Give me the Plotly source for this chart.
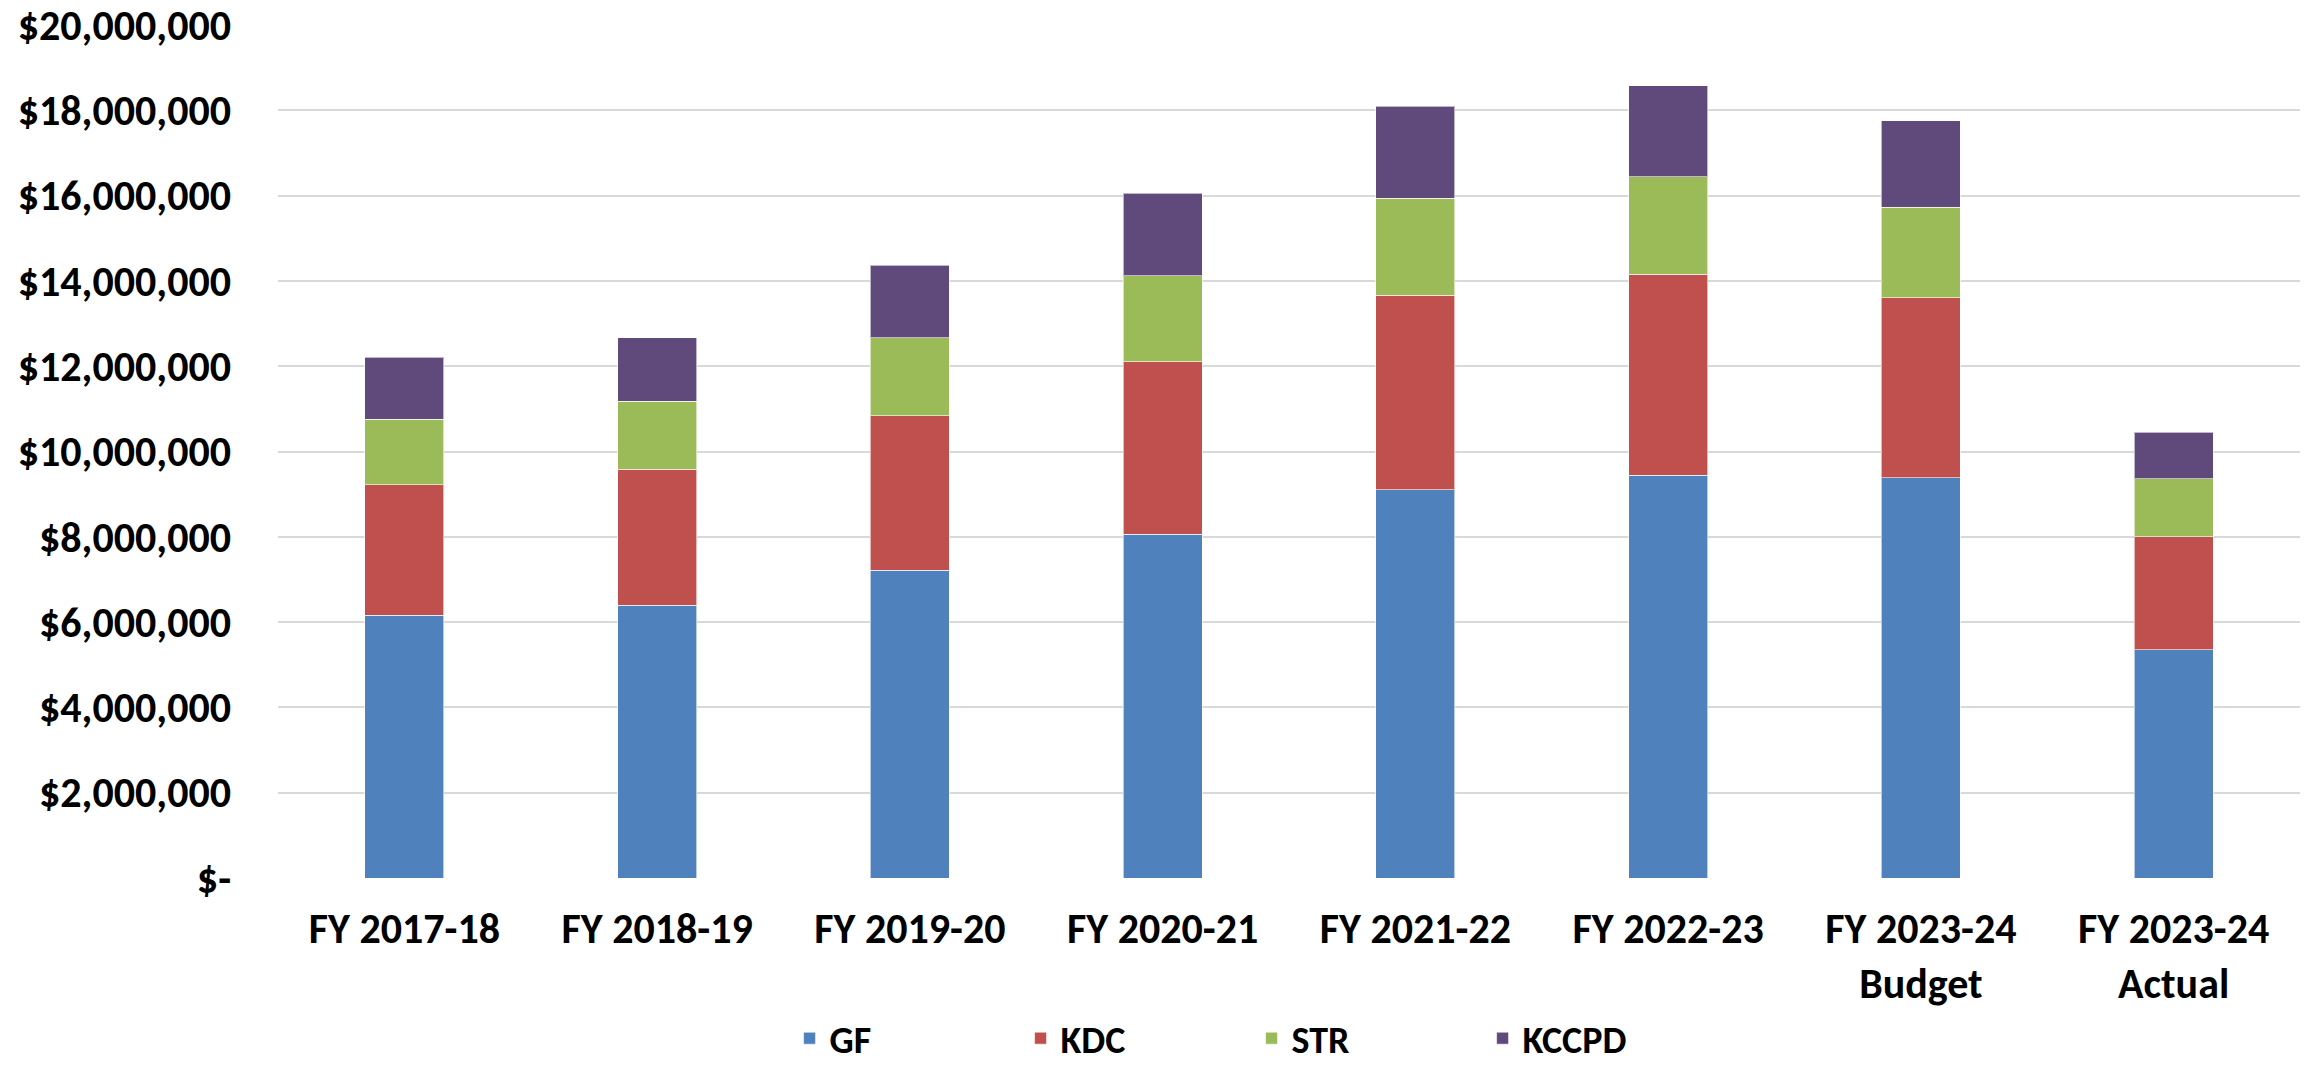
import plotly.graph_objects as go

categories = ["FY 2017-18", "FY 2018-19", "FY 2019-20", "FY 2020-21", "FY 2021-22",
              "FY 2022-23", "FY 2023-24<br>Budget", "FY 2023-24<br>Actual"]

gf = [6160000, 6390000, 7220000, 8060000, 9100000, 9440000, 9380000, 5350000]
kdc = [3060000, 3190000, 3620000, 4050000, 4560000, 4720000, 4220000, 2650000]
strv = [1540000, 1600000, 1830000, 2010000, 2280000, 2280000, 2130000, 1360000]
kccpd = [1450000, 1490000, 1700000, 1930000, 2160000, 2130000, 2030000, 1090000]

series_names = ["GF", "KDC", "STR", "KCCPD"]
series_values = [gf, kdc, strv, kccpd]
colors = ["#4F81BD", "#C0504D", "#9BBB59", "#604A7B"]

tick_vals = [0, 2000000, 4000000, 6000000, 8000000, 10000000, 12000000,
             14000000, 16000000, 18000000, 20000000]
tick_text = ["$-", "$2,000,000", "$4,000,000", "$6,000,000", "$8,000,000",
             "$10,000,000", "$12,000,000", "$14,000,000", "$16,000,000",
             "$18,000,000", "$20,000,000"]

FONT = "Carlito, Calibri, 'Open Sans', sans-serif"

fig = go.Figure()
for name, vals, col in zip(series_names, series_values, colors):
    fig.add_trace(go.Bar(
        x=categories, y=vals, name=name,
        marker=dict(color=col, line=dict(color="rgba(255,255,255,0.6)", width=1)),
    ))

fig.update_layout(
    barmode="stack",
    bargap=0.688,
    width=2308, height=1070,
    autosize=False,
    margin=dict(l=278, r=8, t=25, b=192, autoexpand=False),
    paper_bgcolor="white",
    plot_bgcolor="white",
    font=dict(family=FONT, size=42, color="black", weight="bold"),
    legend=dict(
        orientation="h",
        x=0.253, xanchor="left",
        yref="container",
        y=0.0, yanchor="bottom",
        entrywidth=186, entrywidthmode="pixels",
        font=dict(family=FONT, size=38, color="black", weight="bold"),
        traceorder="normal",
    ),
    xaxis=dict(
        showgrid=False, showline=False, zeroline=False,
        ticks="", ticklabelstandoff=22, automargin=False,
        tickfont=dict(family=FONT, size=42, color="black", weight="bold"),
    ),
    yaxis=dict(
        range=[0, 20000000],
        tickvals=tick_vals, ticktext=tick_text,
        showgrid=True, gridcolor="#D9D9D9", gridwidth=2,
        zeroline=False, showline=False, automargin=False,
        ticks="", ticklabelstandoff=46,
        ticklabeloverflow="allow",
        tickfont=dict(family=FONT, size=42, color="black", weight="bold"),
    ),
)

fig.write_html("out.html", config={"displayModeBar": False},
               post_script="document.body.style.margin='0';document.body.style.overflow='hidden';")
